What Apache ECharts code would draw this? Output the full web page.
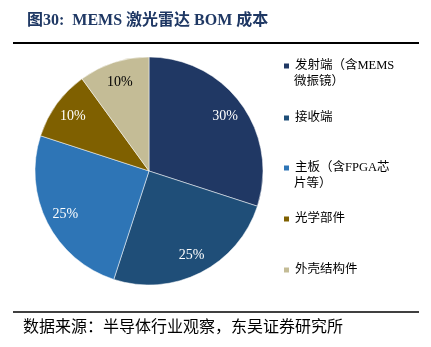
<!DOCTYPE html>
<html><head><meta charset="utf-8">
<script src="https://cdn.jsdelivr.net/npm/echarts@6/dist/echarts.min.js"></script>
<style>html,body{margin:0;padding:0;background:#fff}#c{width:431px;height:347px}</style>
</head><body><div id="c"></div>
<script>
const categories = ['发射端（含MEMS微振镜）', '接收端', '主板（含FPGA芯片等）', '光学部件', '外壳结构件'];
const legendLine1 = ['发射端（含MEMS', '接收端', '主板（含FPGA芯', '光学部件', '外壳结构件'];
const legendLine2 = ['微振镜）', '', '片等）', '', ''];
const values = [30, 25, 25, 10, 10];
const colors = ['#203864', '#1F4E78', '#2E75B6', '#7F6000', '#C4BC96'];
const labelColors = ['#fff', '#fff', '#fff', '#fff', '#000'];

const legendFont = '"Liberation Serif", "Noto Sans CJK SC", serif';
const legendTops = [66, 118, 168, 219, 270];

const chart = echarts.init(document.getElementById('c'), null, {renderer: 'canvas'});
const data = categories.map((n, i) => ({name: n, value: values[i], itemStyle: {color: colors[i]}}));
const labelData = categories.map((n, i) => ({name: n, value: values[i],
  label: {color: labelColors[i]}}));
const legends = categories.map((n, i) => ({
  orient: 'vertical', left: 282, top: legendTops[i] - 8, padding: 0,
  itemWidth: 7, itemHeight: 7, itemGap: 0, icon: 'rect',
  data: [n], selectedMode: false,
  formatter: () => legendLine1[i],
  textStyle: {fontFamily: legendFont, fontSize: 12.5, color: '#000', lineHeight: 16}
}));
const extraLines = legendLine2.map((t, i) => t ? {
  type: 'text', left: 294, top: legendTops[i] + 9,
  style: {text: t, font: '12.5px ' + legendFont, fill: '#000'}
} : null).filter(Boolean);

chart.setOption({
  animation: false,
  title: {
    text: '图30:  MEMS 激光雷达 BOM 成本',
    left: 22, top: 8,
    textStyle: {fontFamily: '"Liberation Serif", "Noto Sans CJK SC", serif', fontWeight: 'bold', fontSize: 16, color: '#1F3864'}
  },
  legend: legends,
  graphic: [
    {type: 'line', shape: {x1: 13, y1: 43, x2: 419, y2: 43}, style: {stroke: '#000', lineWidth: 2}},
    {type: 'line', shape: {x1: 13, y1: 312, x2: 419, y2: 312}, style: {stroke: '#000', lineWidth: 1.5}},
    {type: 'text', left: 23, top: 318, style: {text: '数据来源：半导体行业观察，东吴证券研究所', font: '16px "Noto Sans CJK SC"', fill: '#000'}}
  ].concat(extraLines),
  series: [
    {
      type: 'pie', center: [149, 171], radius: [0, 114], startAngle: 90, clockwise: true,
      data: data, label: {show: false}, labelLine: {show: false},
      itemStyle: {borderColor: '#fff', borderWidth: 0.5}, silent: true, emphasis: {disabled: true}
    },
    {
      type: 'pie', center: [149, 172], radius: [70, 112], startAngle: 90, clockwise: true,
      data: labelData, itemStyle: {color: 'rgba(0,0,0,0)'}, silent: true, emphasis: {disabled: true},
      legendHoverLink: false,
      label: {show: true, position: 'inside', formatter: '{c}%', fontFamily: '"Liberation Serif", serif', fontSize: 14}
    }
  ]
});
</script></body></html>
